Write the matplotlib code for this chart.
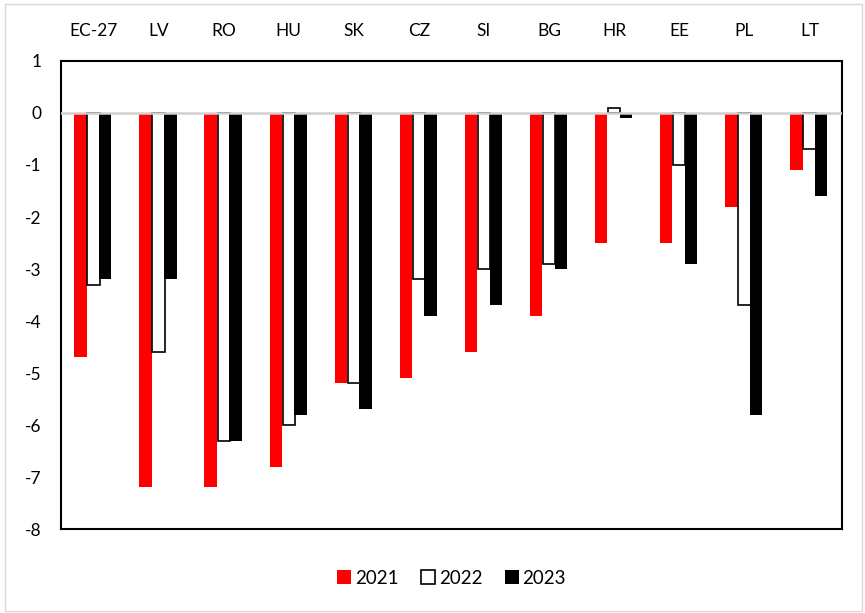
import numpy as np
import matplotlib.pyplot as plt
from matplotlib.patches import Rectangle

countries = ['EC-27', 'LV', 'RO', 'HU', 'SK', 'CZ', 'SI', 'BG', 'HR', 'EE', 'PL', 'LT']
y2021 = [-4.7, -7.2, -7.2, -6.8, -5.2, -5.1, -4.6, -3.9, -2.5, -2.5, -1.8, -1.1]
y2022 = [-3.3, -4.6, -6.3, -6.0, -5.2, -3.2, -3.0, -2.9, 0.1, -1.0, -3.7, -0.7]
y2023 = [-3.2, -3.2, -6.3, -5.8, -5.7, -3.9, -3.7, -3.0, -0.1, -2.9, -5.8, -1.6]

plt.rcParams['font.family'] = ['Lato', 'DejaVu Sans']
plt.rcParams['axes.unicode_minus'] = False

fig = plt.figure(figsize=(8.65, 6.13), dpi=100)
ax = fig.add_axes([0.0705, 0.137, 0.9029, 0.7635])

x = np.arange(len(countries))
w = 0.19
ax.bar(x - 0.2, y2021, w, color='#ff0000', label='2021', zorder=2)
ax.bar(x, y2022, w, color='white', edgecolor='black', linewidth=1.2, label='2022', zorder=2)
ax.bar(x + 0.18, y2023, w, color='black', label='2023', zorder=2)

# zero line sits over the bar tops
ax.axhline(0, color='#d0d0d0', linewidth=1.8, zorder=3)
ax.set_ylim(-8, 1)
ax.set_xlim(-0.5, len(countries) - 0.5)
ax.set_yticks(range(-8, 2))
ax.set_xticks(x)
ax.set_xticklabels(countries)
ax.xaxis.tick_top()
ax.tick_params(axis='x', length=0, pad=16, labelsize=12.5)
ax.tick_params(axis='y', length=0, pad=14, labelsize=12.5)
for s in ax.spines.values():
    s.set_linewidth(1.5)
    s.set_color('black')

ax.legend(loc='center', bbox_to_anchor=(0.5, -0.105), ncol=3, frameon=False,
          fontsize=13.5, handlelength=0.75, handleheight=0.75, handletextpad=0.2,
          columnspacing=1.2)

fig.patches.append(Rectangle((0.006, 0.003), 0.99, 0.99, transform=fig.transFigure,
                             fill=False, edgecolor='#d9d9d9', linewidth=1))

fig.savefig('out.png', dpi=100)
